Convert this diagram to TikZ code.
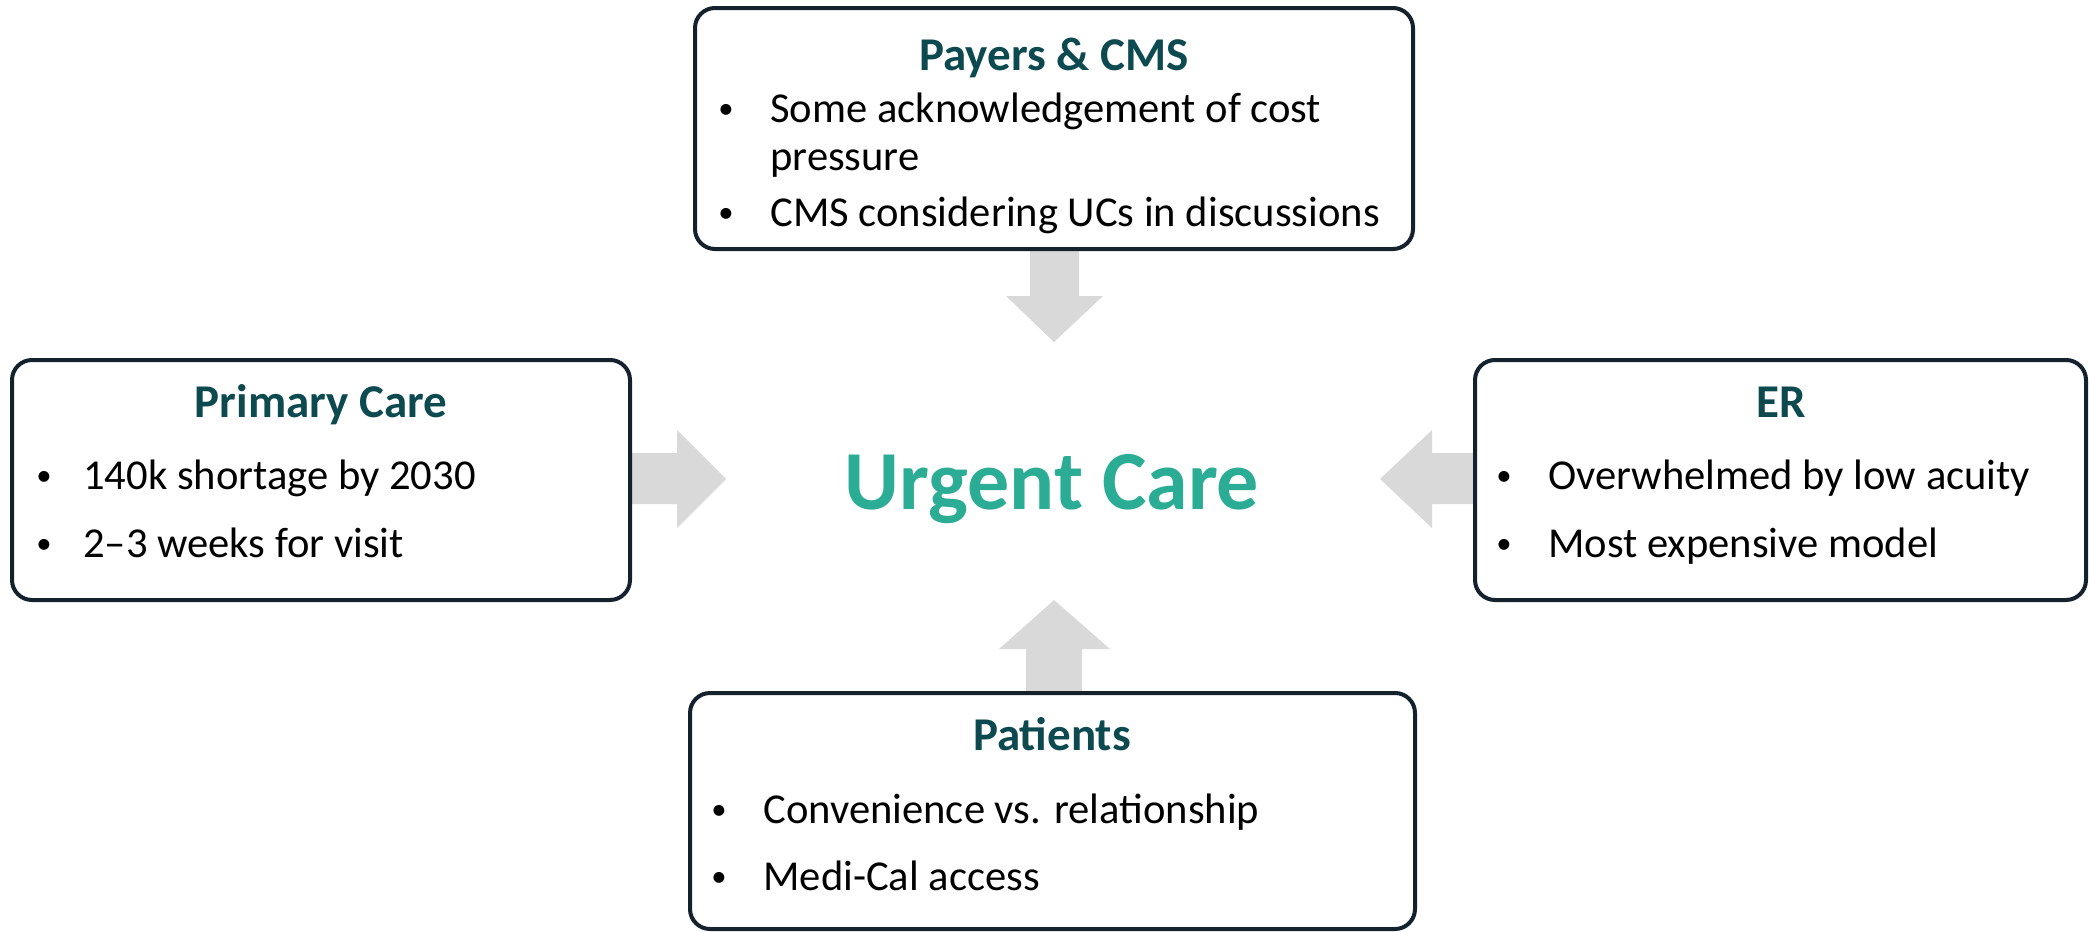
\documentclass[tikz,border=0pt]{standalone}
\usepackage{fontspec}
\usepackage{graphicx}
\setmainfont{Carlito}
\usetikzlibrary{fit}
\definecolor{bordercol}{HTML}{14222E}
\definecolor{titlecol}{HTML}{0C4A4F}
\definecolor{ucteal}{HTML}{2AAC95}
\definecolor{arrowgray}{HTML}{D9D9D9}
\newcommand{\smallbul}{\raisebox{0.09em}{\scalebox{0.72}{•}}}
\tikzset{
  boxnode/.style={draw=bordercol, line width=2pt, rounded corners=10pt, inner sep=0pt},
  titletext/.style={font=\fontsize{23.5}{28}\selectfont\bfseries, text=titlecol, anchor=base, inner sep=0pt},
  itemtext/.style={font=\fontsize{21.3}{26}\selectfont, anchor=base west, inner sep=0pt},
  bullettext/.style={font=\fontsize{21.3}{26}\selectfont, anchor=base, inner sep=0pt},
  blockarrow/.style={fill=arrowgray, draw=none},
}
\begin{document}
\begin{tikzpicture}[x=0.5pt, y=-0.5pt]
\useasboundingbox (0,0) rectangle (2089,932);
\fill[white] (0,0) rectangle (2089,932);

% block arrows
\fill[blockarrow] (1030,249) -- (1079,249) -- (1079,296) -- (1103,296) -- (1054,342) -- (1006,296) -- (1030,296) -- cycle;
\fill[blockarrow] (630,453) -- (677,453) -- (677,430) -- (726,479) -- (677,528) -- (677,504) -- (630,504) -- cycle;
\fill[blockarrow] (1475,453) -- (1432,453) -- (1432,430) -- (1380,479) -- (1432,528) -- (1432,504) -- (1475,504) -- cycle;
\fill[blockarrow] (1026,693) -- (1026,649) -- (999,649) -- (1054,600) -- (1110,649) -- (1082,649) -- (1082,693) -- cycle;

% boxes
\node[boxnode, fill=white, fit={(695,8) (1413,249)}] (payers) {};
\node[boxnode, fill=white, fit={(12,360) (630,600)}] (primary) {};
\node[boxnode, fill=white, fit={(1475,360) (2086,600)}] (er) {};
\node[boxnode, fill=white, fit={(690,693) (1415,929)}] (patients) {};

% center
\node[font=\fontsize{42}{50}\selectfont\bfseries, text=ucteal, anchor=base, inner sep=0pt] (uc) at (1052,509) {Urgent Care};

% Payers
\node[titletext] (payt) at (1054,70) {Payers \& CMS};
\node[bullettext] (payb1) at (726,122) {\smallbul};
\node[itemtext] (pay1) at (770,122) {Some acknowledgement of cost};
\node[itemtext] (pay1b) at (770,170) {pressure};
\node[bullettext] (payb2) at (726,226) {\smallbul};
\node[itemtext] (pay2) at (770,226) {CMS considering UCs in discussions};

% Primary
\node[titletext] (prit) at (321,417) {Primary Care};
\node[bullettext] (prib1) at (44,489) {\smallbul};
\node[itemtext] (pri1) at (83,489) {140k shortage by 2030};
\node[bullettext] (prib2) at (44,557) {\smallbul};
\node[itemtext] (pri2) at (83,557) {2–3 weeks for visit};

% ER
\node[titletext] (ert) at (1781,417) {ER};
\node[bullettext] (erb1) at (1504,489) {\smallbul};
\node[itemtext] (er1) at (1548,489) {Overwhelmed by low acuity};
\node[bullettext] (erb2) at (1504,557) {\smallbul};
\node[itemtext] (er2) at (1548,557) {Most expensive model};

% Patients
\node[titletext] (patt) at (1052,750) {Patients};
\node[bullettext] (patb1) at (719,823) {\smallbul};
\node[itemtext] (pat1) at (763,823) {Convenience vs. relationship};
\node[bullettext] (patb2) at (719,890) {\smallbul};
\node[itemtext] (pat2) at (763,890) {Medi-Cal access};
\end{tikzpicture}
\end{document}
